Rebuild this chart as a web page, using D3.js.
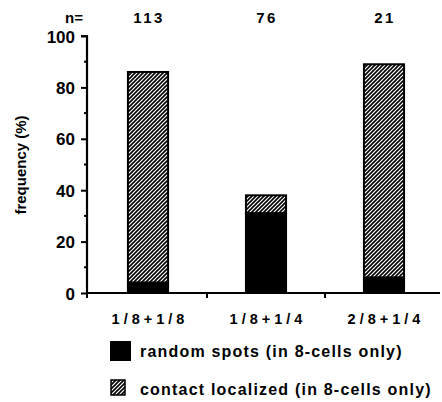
<!DOCTYPE html>
<html>
<head>
<meta charset="utf-8">
<script src="https://cdn.jsdelivr.net/npm/d3@7"></script>
<style>
  body { margin: 0; background: #fff; }
  text { font-family: "Liberation Sans", Arial, Helvetica, sans-serif; font-weight: bold; fill: #000; }
</style>
</head>
<body>
<div class="Chart"></div>
<script>
// data
var groups = ["1/8+1/8", "1/8+1/4", "2/8+1/4"];
var counts = ["113", "76", "21"];
var randomSpots = [4, 31, 6];        // black part
var contactLocalized = [82, 7, 83];  // hatched part on top
var yTicks = [0, 20, 40, 60, 80, 100];
var yMinor = [10, 30, 50, 70, 90];
var legendLabels = ["random spots (in 8-cells only)", "contact localized (in 8-cells only)"];

var width = 442, height = 402;

var svg = d3.select(".Chart")
            .append("svg")
            .attr("width", width)
            .attr("height", height);

// hatch pattern, "/" lines
svg.append("defs")
   .append("pattern")
   .attr("id", "hatch")
   .attr("patternUnits", "userSpaceOnUse")
   .attr("width", 4)
   .attr("height", 4)
   .append("path")
   .attr("d", "M-1,1 l2,-2 M0,4 l4,-4 M3,5 l2,-2")
   .attr("stroke", "#000")
   .attr("stroke-width", 1.6);

var x = d3.scaleBand()
          .domain(groups)
          .range([89, 443])
          .paddingInner(0.66)
          .paddingOuter(0.33);

var y = d3.scaleLinear()
          .domain([0, 100])
          .range([293, 36]);

var bars = svg.append("g").attr("class", "bars");

groups.forEach(function(g, i) {
  var bx = x(g), bw = x.bandwidth();
  var top = randomSpots[i] + contactLocalized[i];
  // hatched section
  bars.append("rect")
      .attr("x", bx)
      .attr("y", y(top))
      .attr("width", bw)
      .attr("height", y(randomSpots[i]) - y(top))
      .attr("fill", "url(#hatch)")
      .attr("stroke", "#000")
      .attr("stroke-width", 2);
  // black section
  bars.append("rect")
      .attr("x", bx)
      .attr("y", y(randomSpots[i]))
      .attr("width", bw)
      .attr("height", y(0) - y(randomSpots[i]))
      .attr("fill", "#000")
      .attr("stroke", "#000")
      .attr("stroke-width", 2);
});

// y axis
var yAxis = svg.append("g")
               .attr("transform", "translate(87,0)")
               .call(d3.axisLeft(y).tickValues(yTicks).tickSize(6).tickPadding(6));
yAxis.select(".domain").attr("stroke-width", 2.2).attr("d", "M-6," + y(100) + "H0V" + y(0));
yAxis.selectAll(".tick line").attr("stroke-width", 2);
yAxis.selectAll(".tick text").style("font-size", "17px").attr("dy", "0.36em");

svg.append("g")
   .selectAll("line")
   .data(yMinor)
   .enter().append("line")
   .attr("x1", 84).attr("x2", 87)
   .attr("y1", function(d) { return y(d); })
   .attr("y2", function(d) { return y(d); })
   .attr("stroke", "#000")
   .attr("stroke-width", 2);

// x axis line with separator ticks between groups
var seps = [87].concat(groups.slice(0, 2).map(function(g) { return x(g) + x.bandwidth() + (x.step() - x.bandwidth()) / 2; }));
svg.append("line")
   .attr("x1", 86).attr("x2", 440)
   .attr("y1", y(0)).attr("y2", y(0))
   .attr("stroke", "#000")
   .attr("stroke-width", 2.2);
svg.append("g")
   .selectAll("line")
   .data(seps)
   .enter().append("line")
   .attr("x1", function(d) { return d; })
   .attr("x2", function(d) { return d; })
   .attr("y1", y(0)).attr("y2", y(0) + 5)
   .attr("stroke", "#000")
   .attr("stroke-width", 2);

// category labels
svg.append("g")
   .selectAll("text")
   .data(groups)
   .enter().append("text")
   .attr("x", function(d) { return x(d) + x.bandwidth() / 2 + 2; })
   .attr("y", 324)
   .attr("text-anchor", "middle")
   .style("font-size", "14.5px")
   .style("letter-spacing", "4px")
   .text(function(d) { return d; });

// n= counts
svg.append("text")
   .attr("x", 74).attr("y", 23)
   .attr("text-anchor", "middle")
   .style("font-size", "15px")
   .text("n=");
svg.append("g")
   .selectAll("text")
   .data(counts)
   .enter().append("text")
   .attr("x", function(d, i) { return x(groups[i]) + x.bandwidth() / 2 + 1; })
   .attr("y", 23)
   .attr("text-anchor", "middle")
   .style("font-size", "15px")
   .style("letter-spacing", "2.5px")
   .text(function(d) { return d; });

// y axis title
svg.append("text")
   .attr("transform", "translate(26,165) rotate(-90)")
   .attr("text-anchor", "middle")
   .style("font-size", "15px")
   .text("frequency (%)");

// legend
var legend = svg.append("g").attr("class", "legend");
legend.append("rect")
      .attr("x", 110).attr("y", 341)
      .attr("width", 21).attr("height", 20)
      .attr("fill", "#000");
legend.append("rect")
      .attr("x", 111).attr("y", 380)
      .attr("width", 14).attr("height", 15)
      .attr("fill", "url(#hatch)")
      .attr("stroke", "#000")
      .attr("stroke-width", 1.5);
legend.selectAll("text.lab")
      .data(legendLabels)
      .enter().append("text")
      .attr("class", "lab")
      .attr("x", 140)
      .attr("y", function(d, i) { return 357 + i * 38; })
      .style("font-size", "16px")
      .style("letter-spacing", "1.2px")
      .text(function(d) { return d; });
</script>
</body>
</html>
